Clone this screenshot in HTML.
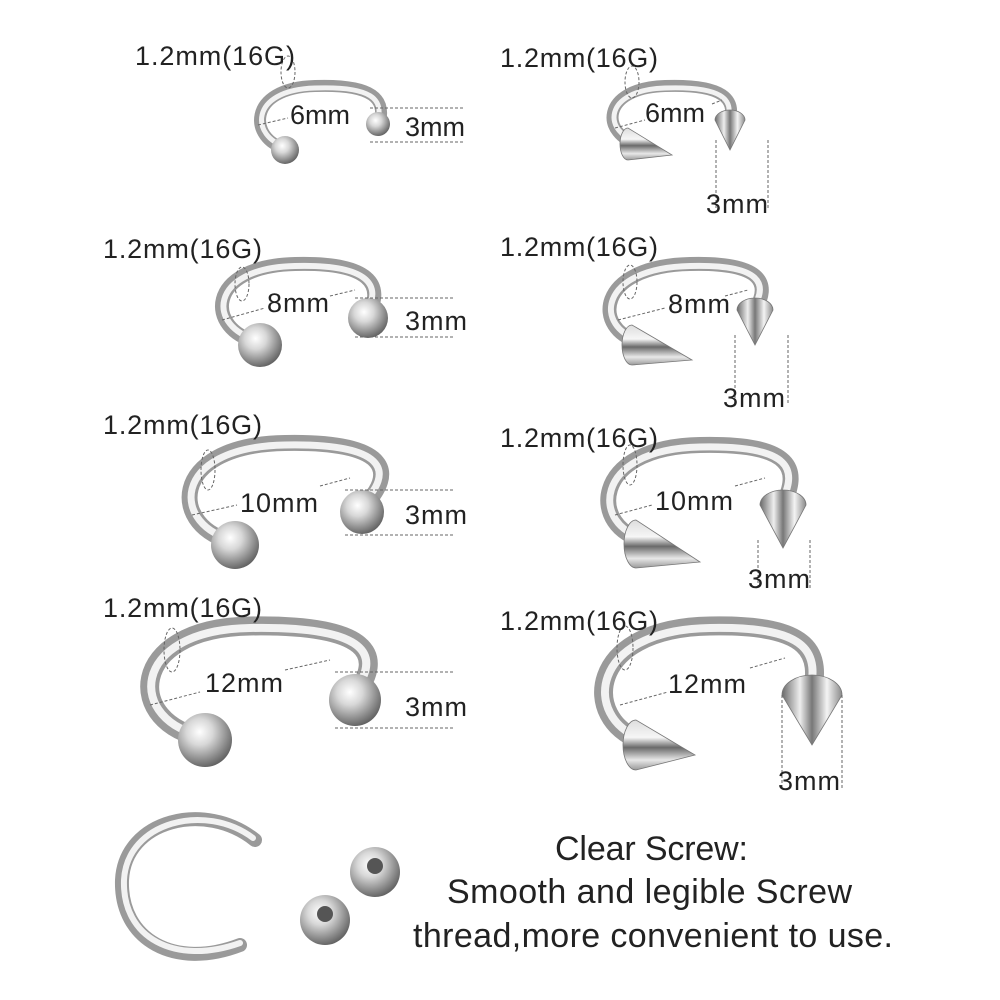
<!DOCTYPE html>
<html><head><meta charset="utf-8"><style>
html,body{margin:0;padding:0;background:#fff}
svg{display:block}
text{font-family:"Liberation Sans",sans-serif;fill:#222}
</style></head><body>
<svg width="1000" height="1000" viewBox="0 0 1000 1000">
<defs>
<radialGradient id="ball" cx="0.4" cy="0.35" r="0.7">
<stop offset="0" stop-color="#ffffff"/><stop offset="0.35" stop-color="#d8d8d8"/><stop offset="0.75" stop-color="#8a8a8a"/><stop offset="1" stop-color="#5a5a5a"/></radialGradient>
<linearGradient id="cone" x1="0" y1="0" x2="1" y2="0">
<stop offset="0" stop-color="#6a6a6a"/><stop offset="0.3" stop-color="#eeeeee"/><stop offset="0.5" stop-color="#777"/><stop offset="0.75" stop-color="#f4f4f4"/><stop offset="1" stop-color="#8a8a8a"/></linearGradient>
<linearGradient id="coneL" x1="0" y1="0" x2="0" y2="1">
<stop offset="0" stop-color="#ddd"/><stop offset="0.35" stop-color="#f6f6f6"/><stop offset="0.55" stop-color="#6a6a6a"/><stop offset="0.8" stop-color="#e8e8e8"/><stop offset="1" stop-color="#999"/></linearGradient>
</defs>
<g fill="none" stroke-linecap="round">
<g stroke="#9a9a9a">
<path d="M285 148 C250 140 245 88 315 86 C375 84 385 100 380 122" stroke-width="12"/>
<path d="M640 145 C600 135 600 88 665 86 C725 84 735 100 730 120" stroke-width="12"/>
<path d="M258 342 C205 330 205 266 295 264 C370 262 385 285 368 315" stroke-width="14"/>
<path d="M640 342 C592 330 595 266 690 264 C765 262 770 285 755 310" stroke-width="14"/>
<path d="M235 542 C170 530 165 445 285 443 C385 441 400 470 362 508" stroke-width="16"/>
<path d="M645 540 C590 530 588 447 700 445 C795 443 800 470 783 505" stroke-width="16"/>
<path d="M205 738 C125 725 125 628 250 626 C370 624 385 655 355 695" stroke-width="19"/>
<path d="M640 740 C582 720 585 628 710 626 C815 624 820 655 812 695" stroke-width="19"/>
<path d="M255 840 C205 800 125 820 122 880 C120 940 175 970 240 945" stroke-width="14"/>
</g>
<g stroke="#f2f2f2">
<path d="M285 146 C252 138 247 90 315 88 C373 86 383 100 378 120" stroke-width="5"/>
<path d="M640 143 C602 133 602 90 665 88 C723 86 733 100 728 118" stroke-width="5"/>
<path d="M258 340 C207 328 207 268 295 266 C368 264 383 285 366 313" stroke-width="6"/>
<path d="M640 340 C594 328 597 268 690 266 C763 264 768 285 753 308" stroke-width="6"/>
<path d="M235 540 C172 528 167 447 285 445 C383 443 398 470 360 506" stroke-width="7"/>
<path d="M645 538 C592 528 590 449 700 447 C793 445 798 470 781 503" stroke-width="7"/>
<path d="M205 736 C127 723 127 630 250 628 C368 626 383 655 353 693" stroke-width="8"/>
<path d="M640 738 C584 718 587 630 710 628 C813 626 818 655 810 693" stroke-width="8"/>
<path d="M253 838 C205 802 127 822 124 880 C122 938 175 966 240 943" stroke-width="6"/>
</g>
</g>
<g fill="url(#ball)">
<circle cx="285" cy="150" r="14"/><circle cx="378" cy="124" r="12"/>
<circle cx="260" cy="345" r="22"/><circle cx="368" cy="318" r="20"/>
<circle cx="235" cy="545" r="24"/><circle cx="362" cy="512" r="22"/>
<circle cx="205" cy="740" r="27"/><circle cx="355" cy="700" r="26"/>
<circle cx="375" cy="872" r="25"/><circle cx="325" cy="920" r="25"/>
</g>
<circle cx="375" cy="866" r="8" fill="#555"/><circle cx="325" cy="914" r="8" fill="#555"/>
<g fill="url(#cone)" stroke="#777" stroke-width="0.8">
<path d="M715 120 A15 10 0 0 1 745 120 L730 150 Z"/>
<path d="M737 310 A18 12 0 0 1 773 310 L755 345 Z"/>
<path d="M760 505 A23 15 0 0 1 806 505 L783 548 Z"/>
<path d="M782 695 A30 20 0 0 1 842 695 L812 745 Z"/>
</g>
<g fill="url(#coneL)" stroke="#777" stroke-width="0.8">
<path d="M628 128 A8 16 0 0 0 628 160 L672 155 Z"/>
<path d="M632 325 A10 20 0 0 0 632 365 L692 360 Z"/>
<path d="M636 520 A12 24 0 0 0 636 568 L700 562 Z"/>
<path d="M636 720 A13 25 0 0 0 636 770 L695 755 Z"/>
</g>
<g stroke="#666" stroke-width="1" stroke-dasharray="3,2" fill="none">
<path d="M370 108H465M370 142H465"/>
<path d="M716 140V210M768 140V210"/>
<path d="M355 298H455M355 337H455"/>
<path d="M735 335V405M788 335V405"/>
<path d="M345 490H455M345 535H455"/>
<path d="M758 540V590M810 540V590"/>
<path d="M335 672H455M335 728H455"/>
<path d="M782 695V790M842 695V790"/>
<path d="M620 705L668 692M750 668L785 658"/>
<path d="M615 515L652 505M735 486L765 478"/>
<path d="M618 320L665 308M725 296L748 290"/>
<path d="M615 128L645 120M712 104L722 100"/>
<path d="M150 705L200 692M285 670L330 660"/>
<path d="M192 515L237 505M320 486L350 478"/>
<path d="M222 320L265 308M330 296L355 290"/>
<path d="M258 125L288 118"/>
<ellipse cx="288" cy="72" rx="7" ry="16"/><ellipse cx="632" cy="82" rx="7" ry="16"/>
<ellipse cx="242" cy="284" rx="7" ry="17"/><ellipse cx="630" cy="282" rx="7" ry="17"/>
<ellipse cx="208" cy="470" rx="7" ry="20"/><ellipse cx="630" cy="465" rx="7" ry="20"/>
<ellipse cx="172" cy="650" rx="8" ry="22"/><ellipse cx="625" cy="648" rx="8" ry="22"/>
</g>
<g font-size="27">
<text x="135" y="65" textLength="160">1.2mm(16G)</text><text x="500" y="67" textLength="158">1.2mm(16G)</text>
<text x="290" y="124" textLength="60">6mm</text><text x="405" y="136" textLength="60">3mm</text>
<text x="645" y="122" textLength="60">6mm</text><text x="706" y="213" textLength="62">3mm</text>
<text x="103" y="258" textLength="159">1.2mm(16G)</text><text x="500" y="256" textLength="158">1.2mm(16G)</text>
<text x="267" y="312" textLength="62">8mm</text><text x="405" y="330" textLength="62">3mm</text>
<text x="668" y="313" textLength="62">8mm</text><text x="723" y="407" textLength="62">3mm</text>
<text x="103" y="434" textLength="159">1.2mm(16G)</text><text x="500" y="447" textLength="158">1.2mm(16G)</text>
<text x="240" y="512" textLength="78">10mm</text><text x="405" y="524" textLength="62">3mm</text>
<text x="655" y="510" textLength="78">10mm</text><text x="748" y="588" textLength="62">3mm</text>
<text x="103" y="617" textLength="159">1.2mm(16G)</text><text x="500" y="630" textLength="158">1.2mm(16G)</text>
<text x="205" y="692" textLength="78">12mm</text><text x="405" y="716" textLength="62">3mm</text>
<text x="668" y="693" textLength="78">12mm</text><text x="778" y="790" textLength="62">3mm</text>
</g>
<g font-size="34">
<text x="555" y="860" textLength="193">Clear Screw:</text>
<text x="447" y="903" textLength="405">Smooth and legible Screw</text>
<text x="413" y="947" textLength="480">thread,more convenient to use.</text>
</g>
</svg>
</body></html>
